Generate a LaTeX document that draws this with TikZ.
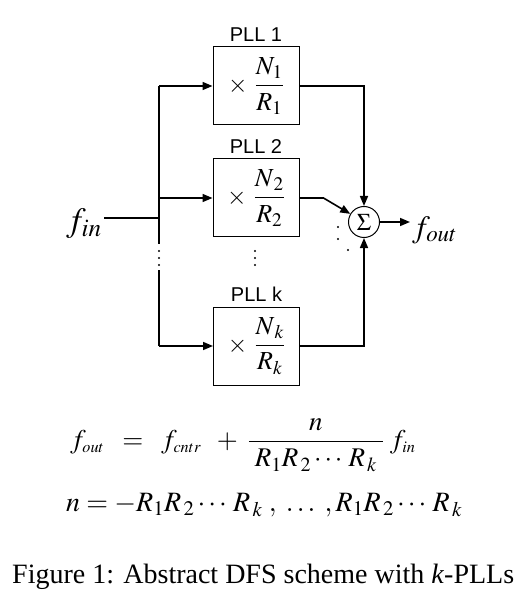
\documentclass[tikz,border=0pt]{standalone}
\usepackage{amsmath}
\usepackage{mathptmx}
\usepackage[no-math]{fontspec}
\setmainfont{Liberation Serif}
\setsansfont{Liberation Sans}
\usetikzlibrary{arrows.meta,positioning,calc}
\newcommand{\tam}[1]{\fontsize{#1}{#1}\selectfont}
\newcommand{\por}{{\tam{25}$\times$}\;}

\begin{document}
\begin{tikzpicture}[x=1pt,y=-1pt,
  bloque/.style={draw,line width=1pt,minimum width=86pt,minimum height=78pt,
                 inner sep=0pt,font=\tam{26}},
  etiqueta/.style={font=\sffamily\tam{20},inner sep=1pt},
  sumador/.style={draw,circle,line width=1pt,minimum size=31pt,inner sep=0pt,
                  font=\tam{24}},
  flecha/.style={-{Triangle[length=10pt,width=8pt]},line width=1.6pt},
  linea/.style={line width=1.6pt},
  punto/.style={circle,fill,inner sep=0pt,minimum size=2.2pt}
]
\useasboundingbox (0,0) rectangle (531,601);
% bloques PLL
\node[bloque] (pll1) at (256,86) {\por$\dfrac{N_1}{R_1}$};
\node[bloque] (pll2) at (256,198) {\por$\dfrac{N_{\,2}}{R_2}$};
\node[bloque] (pllk) at (256.5,346) {\por$\dfrac{N_{\,k}}{R_k}$};
\node[etiqueta,above=4pt of pll1] (et1) {PLL 1};
\node[etiqueta,above=4pt of pll2] (et2) {PLL 2};
\node[etiqueta,above=4pt of pllk] (etk) {PLL k};
\node[sumador] (suma) at (364,222) {$\Sigma$};
% entrada y salida
\node[font=\tam{34},anchor=east,inner sep=2pt] (fin) at (104,224) {$f_{in}$};
\node[font=\tam{31},anchor=west,inner sep=2pt] (fout) at (410,230) {$f_{out}$};
\coordinate (bus) at (159,218);
\coordinate (corte) at (159,244);
\coordinate (sigue) at (159,270);
\draw[linea] (fin.east |- bus) -- (bus);
\draw[linea] (pll1.west -| bus) -- (corte);
\draw[linea] (sigue) -- (pllk.west -| bus);
\draw[flecha] (pll1.west -| bus) -- (pll1.west);
\draw[flecha] (pll2.west -| bus) -- (pll2.west);
\draw[flecha] (pllk.west -| bus) -- (pllk.west);
\draw[flecha] (pll1.east) -| (suma);
\draw[flecha] (pll2.east) -- ++(24,0) -- (suma);
\draw[flecha] (pllk.east) -| (suma);
\draw[flecha] (suma) -- (suma.east -| fout.west);
% puntos suspensivos
\foreach \y [count=\i] in {251,258,265} {
  \node[punto] (bp\i) at (159,\y) {};
  \node[punto] (cp\i) at (255,\y) {};
}
\node[punto] (p1) at (338,227) {};
\node[punto] (p2) at (338,239) {};
\node[punto] (p3) at (348,250) {};
% ecuaciones
\node[anchor=west,font=\tam{27},inner sep=0pt] (ec1) at (70,445)
  {$f_{\scriptscriptstyle out}\;\;=\;\;f_{\scriptscriptstyle cntr}\;\;+\;
   \dfrac{n}{\;R_1R_{\,2}\cdots\,R_{\,k}\;}\;f_{\scriptscriptstyle in}$};
\node[anchor=west,font=\tam{28},inner sep=0pt] (ec2) at (66,505)
  {$n=-R_1R_{\,2}\cdots\,R_{\,k}\;,\;\ldots\;,R_1R_{\,2}\cdots\,R_{\,k}$};
\node[anchor=west,font=\tam{28},inner sep=0pt] (pie) at (12,577)
  {Figure 1: Abstract DFS scheme with \textit{k}-PLLs};
\end{tikzpicture}
\end{document}
